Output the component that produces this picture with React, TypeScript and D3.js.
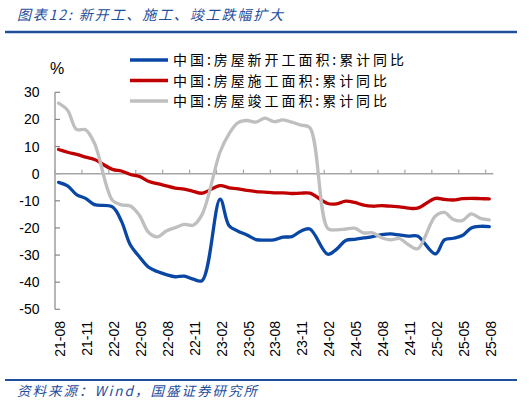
import * as d3 from "d3";

// 月份（1月无单独数据，与2月合并发布）
const months = [
  "21-08", "21-09", "21-10", "21-11", "21-12",
  "22-02", "22-03", "22-04", "22-05", "22-06", "22-07", "22-08", "22-09", "22-10", "22-11", "22-12",
  "23-02", "23-03", "23-04", "23-05", "23-06", "23-07", "23-08", "23-09", "23-10", "23-11", "23-12",
  "24-02", "24-03", "24-04", "24-05", "24-06", "24-07", "24-08", "24-09", "24-10", "24-11", "24-12",
  "25-02", "25-03", "25-04", "25-05", "25-06", "25-07", "25-08",
];

const newStart = [
  -3.2, -4.5, -7.7, -9.1, -11.4,
  -12.2, -17.5, -26.3, -30.6, -34.4, -36.1, -37.2, -38.0, -37.8, -38.9, -39.4,
  -9.4, -19.2, -21.2, -22.6, -24.3, -24.5, -24.4, -23.4, -23.2, -21.2, -20.4,
  -29.7, -27.8, -24.6, -24.2, -23.7, -23.2, -22.5, -22.2, -22.6, -23.0, -23.0,
  -29.6, -24.4, -23.8, -22.8, -20.0, -19.4, -19.5,
];

const underConstruction = [
  8.9, 7.9, 7.1, 6.1, 5.2,
  1.6, 1.0, -0.3, -1.0, -2.8, -3.7, -4.5, -5.3, -5.7, -6.5, -7.2,
  -4.4, -5.2, -5.6, -6.2, -6.6, -6.8, -7.1, -7.1, -7.3, -7.2, -7.2,
  -11.0, -11.1, -10.1, -10.6, -11.6, -12.0, -11.8, -12.0, -12.2, -12.7, -12.7,
  -9.1, -9.5, -9.7, -9.2, -9.1, -9.2, -9.3,
];

const completed = [
  26.0, 23.4, 16.3, 16.2, 11.2,
  -9.8, -11.5, -11.9, -15.3, -21.5, -23.3, -21.1, -19.9, -18.7, -19.0, -15.0,
  8.0, 14.7, 18.8, 19.6, 19.0, 20.5, 19.2, 19.8, 19.0, 17.9, 17.0,
  -20.2, -20.7, -20.4, -20.1, -21.8, -21.8, -23.6, -24.4, -23.9, -26.2, -27.7,
  -15.6, -14.3, -16.9, -17.3, -14.8, -16.5, -17.0,
];

const tickLabels = [
  "21-08", "21-11", "22-02", "22-05", "22-08", "22-11", "23-02", "23-05", "23-08",
  "23-11", "24-02", "24-05", "24-08", "24-11", "25-02", "25-05", "25-08",
];

const yTicks = [30, 20, 10, 0, -10, -20, -30, -40, -50];

const seriesNames = [
  "中国:房屋新开工面积:累计同比",
  "中国:房屋施工面积:累计同比",
  "中国:房屋竣工面积:累计同比",
];
const seriesValues = [newStart, underConstruction, completed];
const seriesColors = ["#0a47a5", "#c00000", "#bfbfbf"];
const legendWidths = [231, 214, 214];

const monthIndex = (s: string) => {
  const [yy, mm] = s.split("-").map(Number);
  return (yy - 21) * 12 + (mm - 8);
};

const sans = "'Liberation Sans', Arial, sans-serif";
const cjk = "'Noto Sans CJK SC', sans-serif";
const titleBlue = "#1f4e9c";

export default function App() {
  const x = d3.scaleLinear().domain([-0.4, 48.45]).range([55, 493.3]);
  const y = d3.scaleLinear().domain([-50, 30]).range([309.3, 92.3]);

  const line = d3
    .line<[string, number]>()
    .x((d) => x(monthIndex(d[0])))
    .y((d) => y(d[1]))
    .curve(d3.curveCatmullRom.alpha(0.5));

  return (
    <svg
      width={531}
      height={405}
      viewBox="0 0 531 405"
      style={{ position: "absolute", left: 0, top: 0, background: "#fff" }}
    >
      {/* 标题 */}
      <text
        x={17}
        y={20}
        fontFamily={cjk}
        fontSize={14}
        fontStyle="italic"
        fill={titleBlue}
        textLength={266}
        lengthAdjust="spacing"
      >
        图表12: 新开工、施工、竣工跌幅扩大
      </text>
      <line x1={5} x2={517} y1={32} y2={32} stroke={titleBlue} strokeWidth={2.5} />

      {/* 单位 */}
      <text x={57} y={74} textAnchor="middle" fontFamily={sans} fontSize={16}>
        %
      </text>

      {/* 图例 */}
      {seriesNames.map((name, i) => (
        <g key={name}>
          <line
            x1={130}
            x2={168}
            y1={60 + i * 20.5}
            y2={60 + i * 20.5}
            stroke={seriesColors[i]}
            strokeWidth={3.5}
          />
          <text
            x={173}
            y={60 + i * 20.5}
            dy="0.36em"
            fontFamily={cjk}
            fontSize={14}
            textLength={legendWidths[i]}
            lengthAdjust="spacing"
          >
            {name}
          </text>
        </g>
      ))}

      {/* y 轴 */}
      <line x1={55} x2={55} y1={y(30)} y2={y(-50)} stroke="#868686" strokeWidth={1.2} />
      {yTicks.map((t) => (
        <g key={t}>
          <line x1={55} x2={60} y1={y(t)} y2={y(t)} stroke="#868686" strokeWidth={1.2} />
          <text
            x={39.5}
            y={y(t)}
            dy="0.36em"
            textAnchor="end"
            fontFamily={sans}
            fontSize={14}
          >
            {t}
          </text>
        </g>
      ))}

      {/* 零线与 x 轴刻度 */}
      <line x1={55} x2={493.3} y1={y(0)} y2={y(0)} stroke="#a6a6a6" strokeWidth={1.5} />
      {tickLabels.map((lab) => {
        const m = monthIndex(lab);
        return (
          <g key={lab}>
            <line
              x1={x(m - 0.4)}
              x2={x(m - 0.4)}
              y1={y(0)}
              y2={y(0) - 4}
              stroke="#a6a6a6"
              strokeWidth={1.2}
            />
            <text
              transform={`translate(${x(m) + 1.5},321) rotate(-90)`}
              dy="0.36em"
              textAnchor="end"
              fontFamily={sans}
              fontSize={14}
            >
              {lab}
            </text>
          </g>
        );
      })}

      {/* 折线 */}
      {seriesValues.map((vals, i) => (
        <path
          key={seriesNames[i]}
          d={line(months.map((m, j) => [m, vals[j]] as [string, number])) ?? ""}
          fill="none"
          stroke={seriesColors[i]}
          strokeWidth={3.3}
          strokeLinejoin="round"
          strokeLinecap="round"
        />
      ))}

      {/* 来源 */}
      <line x1={5} x2={517} y1={380} y2={380} stroke={titleBlue} strokeWidth={2} />
      <text
        x={17}
        y={396}
        fontFamily={cjk}
        fontSize={13.5}
        fontStyle="italic"
        fill={titleBlue}
        textLength={240}
        lengthAdjust="spacing"
      >
        资料来源：Wind，国盛证券研究所
      </text>
    </svg>
  );
}
